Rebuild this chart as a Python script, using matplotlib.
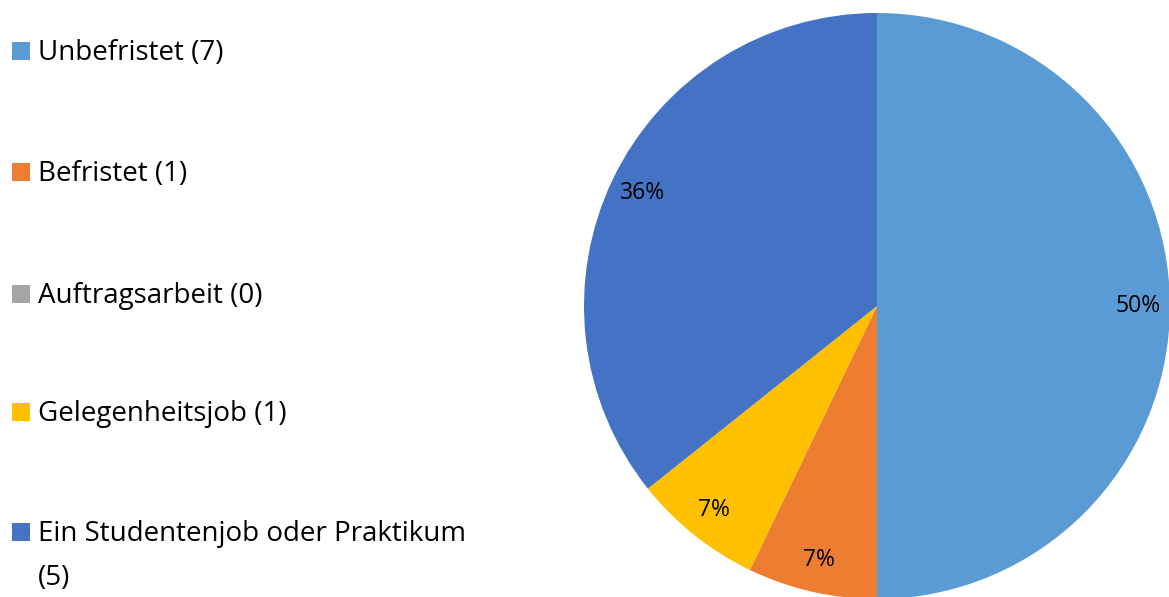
import matplotlib
matplotlib.use("Agg")
import matplotlib.pyplot as plt
from matplotlib.patches import Rectangle

# Employment type counts
categories = ["Unbefristet", "Befristet", "Auftragsarbeit", "Gelegenheitsjob",
              "Ein Studentenjob oder Praktikum"]
counts = [7, 1, 0, 1, 5]
colors = ["#5B9BD5", "#ED7D31", "#A5A5A5", "#FFC000", "#4472C4"]

W, H = 1169, 597
fig = plt.figure(figsize=(W / 100, H / 100), dpi=100)
plt.rcParams["font.family"] = ["Open Sans", "DejaVu Sans"]

# Pie axes (pixel geometry converted to figure fractions)
cx, cy, r = 877, H - 306, 293
ax = fig.add_axes([(cx - r) / W, (cy - r) / H, 2 * r / W, 2 * r / H])


def pct_label(p):
    return f"{p:.0f}%" if p > 0.5 else ""


wedges, texts, autotexts = ax.pie(
    counts, colors=colors, startangle=90, counterclock=False,
    autopct=pct_label, pctdistance=0.89,
    wedgeprops=dict(linewidth=0),
    textprops=dict(fontsize=16.5, color="black"),
)
ax.set_xlim(-1, 1)
ax.set_ylim(-1, 1)
ax.set_aspect("auto")
ax.axis("off")

# Legend on the left, drawn item by item
baselines = [60, 181, 303, 421, 541]
labels = [f"{c} ({n})" for c, n in zip(categories, counts)]
sq = 18
fs = 20
for base, lab, col in zip(baselines, labels, colors):
    fig.add_artist(Rectangle((12 / W, (H - base) / H), sq / W, sq / H,
                             transform=fig.transFigure, color=col, lw=0))
    if lab.startswith("Ein"):
        first, second = lab.rsplit(" ", 1)
        fig.text(38 / W, (H - base) / H, first, fontsize=fs, va="baseline",
                 ha="left", color="black")
        fig.text(38 / W, (H - base - 44) / H, second, fontsize=fs, va="baseline",
                 ha="left", color="black")
    else:
        fig.text(38 / W, (H - base) / H, lab, fontsize=fs, va="baseline",
                 ha="left", color="black")

fig.savefig("out.png", dpi=100)
